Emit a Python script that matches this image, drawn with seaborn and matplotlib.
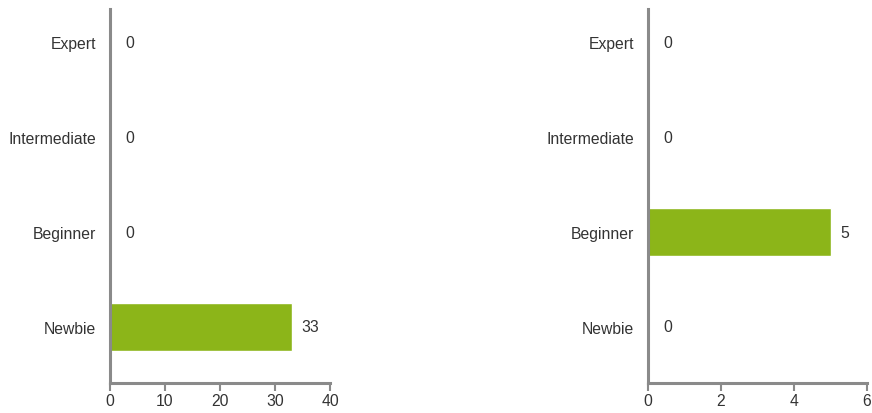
import matplotlib
matplotlib.use("Agg")
import matplotlib.pyplot as plt
import seaborn as sns
import pandas as pd

categories = ["Expert", "Intermediate", "Beginner", "Newbie"]
left_values = [0, 0, 0, 33]
right_values = [0, 0, 5, 0]
left_ticks = [0, 10, 20, 30, 40]
right_ticks = [0, 2, 4, 6]

sns.set_theme(style="white")
plt.rcParams["font.family"] = ["Liberation Sans", "DejaVu Sans"]

BAR = "#8cb519"
SPINE = "#8a8a8a"
TXT = "#333333"
FS = 11.3

fig = plt.figure(figsize=(8.72, 4.14), dpi=100)
H = 414.0
W = 872.0
ax1 = fig.add_axes([110 / W, 1 - 384 / H, 220 / W, 374 / H])
ax2 = fig.add_axes([648 / W, 1 - 384 / H, 219 / W, 374 / H])

for ax, vals, ticks in [(ax1, left_values, left_ticks), (ax2, right_values, right_ticks)]:
    df = pd.DataFrame({"cat": categories, "val": vals})
    sns.barplot(data=df, x="val", y="cat", orient="h", color=BAR, width=0.5,
                saturation=1, ax=ax, order=categories)
    ax.set_xlim(ticks[0], ticks[-1])
    ax.set_ylim(3.59, -0.35)
    ax.set_xticks(ticks)
    ax.set_xlabel("")
    ax.set_ylabel("")
    for s in ["top", "right"]:
        ax.spines[s].set_visible(False)
    for s in ["left", "bottom"]:
        ax.spines[s].set_color(SPINE)
        ax.spines[s].set_linewidth(2.2)
    ax.tick_params(axis="x", bottom=True, length=6, width=1.5, color=SPINE,
                   labelsize=FS, labelcolor=TXT, pad=1)
    ax.tick_params(axis="y", left=False, length=0, labelsize=FS, labelcolor=TXT, pad=10)
    for i, v in enumerate(vals):
        off = 15 if v == 0 else 10
        ax.annotate(str(v), xy=(v, i), xytext=(off, 0), textcoords="offset pixels",
                    va="center", ha="left", fontsize=FS, color=TXT)

fig.savefig("out.png", dpi=100)
